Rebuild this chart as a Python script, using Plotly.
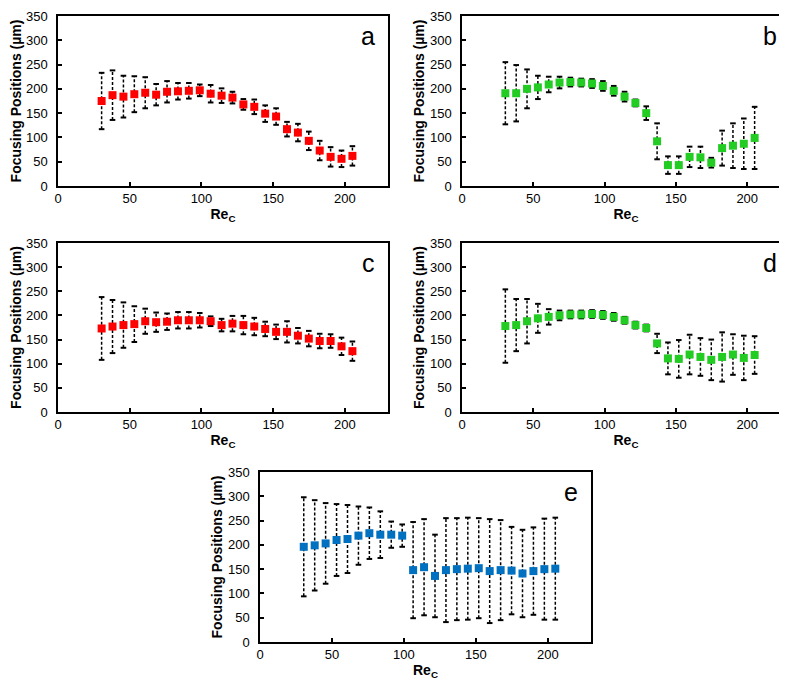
import plotly.graph_objects as go

# ---- data ----
re_c = [30.4, 38.0, 45.6, 53.2, 60.8, 68.4, 76.0, 83.6, 91.2, 98.8, 106.4, 114.0,
        121.6, 129.2, 136.8, 144.4, 152.0, 159.6, 167.2, 174.8, 182.4, 190.0, 197.6, 205.2]

pos_a = [175, 187, 184, 189, 192, 188, 194, 195, 196, 197, 190, 186,
         182, 168, 163, 149, 143, 117, 110, 93, 73, 60, 56, 62]
err_a = [58, 51, 43, 37, 32, 22, 22, 17, 16, 12, 18, 15,
         12, 11, 15, 17, 17, 15, 18, 19, 20, 20, 17, 20]

pos_b = [191, 191, 200, 203, 209, 213, 214, 213, 211, 206, 196, 184,
         171, 150, 92, 43, 43, 60, 59, 48, 78, 83, 87, 99]
err_b = [64, 58, 40, 24, 16, 12, 9, 8, 9, 10, 10, 10,
         7, 14, 37, 18, 18, 21, 22, 10, 36, 46, 52, 64]

pos_c = [173, 177, 180, 182, 188, 186, 187, 190, 190, 190, 188, 180,
         183, 180, 177, 172, 166, 166, 158, 152, 147, 147, 136, 126]
err_c = [65, 55, 47, 37, 26, 20, 17, 17, 17, 15, 10, 13,
         16, 19, 18, 15, 15, 22, 16, 16, 15, 14, 18, 20]

pos_d = [178, 180, 188, 194, 197, 200, 202, 202, 203, 201, 197, 190,
         180, 174, 142, 111, 110, 119, 114, 108, 114, 119, 112, 118]
err_d = [76, 54, 46, 30, 16, 10, 8, 8, 8, 8, 8, 7,
         7, 7, 20, 33, 39, 41, 39, 42, 51, 42, 46, 39]

pos_e = [196, 199, 203, 210, 212, 219, 224, 221, 221, 219, 148, 154,
         136, 148, 150, 151, 152, 146, 148, 147, 141, 146, 150, 151]
err_e = [102, 93, 83, 74, 70, 60, 53, 48, 27, 23, 99, 99,
         85, 107, 105, 105, 103, 107, 103, 90, 90, 90, 104, 105]

panel_letters = ["a", "b", "c", "d", "e"]
x_ticks = [0, 50, 100, 150, 200]
y_ticks = [0, 50, 100, 150, 200, 250, 300, 350]

RED = "#FF0000"
GREEN = "#22CC22"
BLUE = "#0070C0"

panels = [
    (pos_a, err_a, RED),
    (pos_b, err_b, GREEN),
    (pos_c, err_c, RED),
    (pos_d, err_d, GREEN),
    (pos_e, err_e, BLUE),
]

W, H = 787, 679
# plot-area pixel boxes (left, right, top, bottom)
boxes = [
    (50, 380, 8, 178),
    (454, 782, 8, 178),
    (50, 380, 235, 404),
    (454, 782, 235, 404),
    (252, 583, 464, 634),
]

FONT = "Liberation Sans, Arial, sans-serif"

fig = go.Figure()
layout = {}
for i, ((pos, err, col), (l, r, t, b)) in enumerate(zip(panels, boxes)):
    n = "" if i == 0 else str(i + 1)
    xa, ya = "x" + n, "y" + n
    # dashed error bars
    xs, ys = [], []
    for x, m, e in zip(re_c, pos, err):
        xs += [x, x, None]
        ys += [m - e, m + e, None]
    fig.add_trace(go.Scatter(x=xs, y=ys, mode="lines", xaxis=xa, yaxis=ya,
                             line=dict(color="black", width=1.5, dash="3px,2px"),
                             showlegend=False, hoverinfo="skip"))
    # caps
    fig.add_trace(go.Scatter(x=re_c + re_c,
                             y=[m + e for m, e in zip(pos, err)] + [m - e for m, e in zip(pos, err)],
                             mode="markers", xaxis=xa, yaxis=ya,
                             marker=dict(symbol="line-ew", size=4, line=dict(color="black", width=2)),
                             showlegend=False, hoverinfo="skip"))
    # markers
    fig.add_trace(go.Scatter(x=re_c, y=pos, mode="markers", xaxis=xa, yaxis=ya,
                             marker=dict(symbol="square", size=8, color=col,
                                         line=dict(width=0)),
                             showlegend=False))
    common = dict(showline=True, linecolor="black", linewidth=1.5, mirror=True,
                  ticks="inside", ticklen=4, tickwidth=1.5, tickcolor="black",
                  showgrid=False, zeroline=False, automargin=False,
                  ticklabeloverflow="allow",
                  tickfont=dict(family=FONT, size=13, color="black"))
    layout["xaxis" + n] = dict(domain=[l / W, r / W], anchor=ya, range=[0, 230],
                               tickvals=x_ticks,
                               title=dict(text="<b>Re<sub>C</sub></b>", standoff=4,
                                          font=dict(family=FONT, size=14, color="black")),
                               **common)
    layout["yaxis" + n] = dict(domain=[1 - b / H, 1 - t / H], anchor=xa, range=[0, 350],
                               tickvals=y_ticks, ticklabelstandoff=6,
                               title=dict(text="<b>Focusing Positions (µm)</b>", standoff=2,
                                          font=dict(family=FONT, size=14, color="black")),
                               **common)
    fig.add_annotation(text=panel_letters[i], xref=xa + " domain", yref=ya + " domain",
                       x=0.94, y=0.88, showarrow=False, xanchor="center", yanchor="middle",
                       font=dict(family=FONT, size=25, color="black"))

fig.update_layout(width=W, height=H, margin=dict(l=0, r=0, t=0, b=0),
                  paper_bgcolor="white", plot_bgcolor="white", **layout)
fig.write_html("out.html")
